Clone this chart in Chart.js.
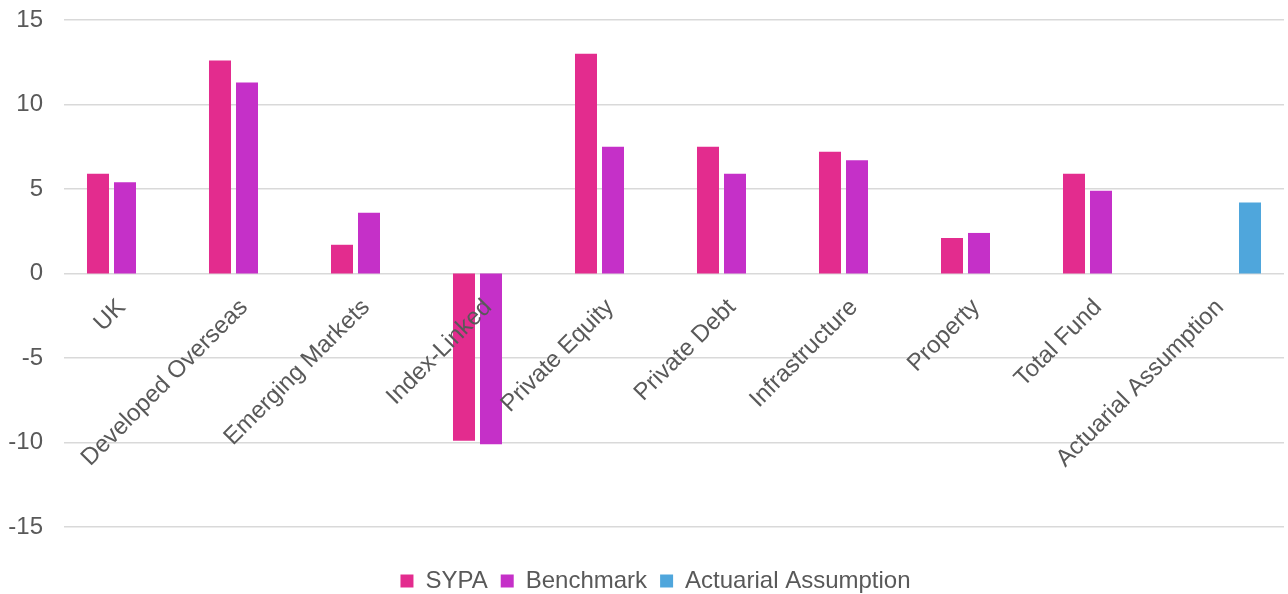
<!DOCTYPE html>
<html>
<head>
<meta charset="utf-8">
<script src="https://cdn.jsdelivr.net/npm/chart.js@4/dist/chart.umd.min.js"></script>
<style>
  html, body { margin: 0; padding: 0; background: #fff; overflow: hidden; }
  #wrap { width: 1311px; height: 603px; }
</style>
</head>
<body>
<div id="wrap"><canvas id="returnsChart"></canvas></div>
<script>
const categories = ['UK', 'Developed Overseas', 'Emerging Markets', 'Index-Linked', 'Private Equity',
    'Private Debt', 'Infrastructure', 'Property', 'Total Fund', 'Actuarial Assumption'];
const sypa = [5.9, 12.6, 1.7, -9.9, 13.0, 7.5, 7.2, 2.1, 5.9, null];
const benchmark = [5.4, 11.3, 3.6, -10.1, 7.5, 5.9, 6.7, 2.4, 4.9, null];
const actuarial = [null, null, null, null, null, null, null, null, null, 4.2];
const yTicks = [-15, -10, -5, 0, 5, 10, 15];

const returnsChart = () => {
    Chart.defaults.font.family = '"Liberation Sans", Arial, sans-serif';
    Chart.defaults.font.size = 24;
    Chart.defaults.color = '#595959';

    const ctx = document.getElementById('returnsChart').getContext('2d');
    const bar = { categoryPercentage: 0.664, barPercentage: 0.815, borderWidth: 0 };
    const data = {
        labels: categories,
        datasets: [
            { label: 'SYPA', data: sypa, backgroundColor: '#e32c8e', ...bar },
            { label: 'Benchmark', data: benchmark, backgroundColor: '#c530c8', ...bar },
            { label: 'Actuarial Assumption', data: actuarial, backgroundColor: '#4fa6dc', ...bar },
        ],
    };
    new Chart(ctx, {
        type: 'bar',
        data: data,
        options: {
            responsive: true,
            maintainAspectRatio: false,
            animation: false,
            layout: { padding: { left: 0, right: 0, top: 20, bottom: 0 } },
            plugins: {
                tooltip: { enabled: false },
                legend: {
                    position: 'bottom',
                    labels: { boxWidth: 13, boxHeight: 13, padding: 13, font: { size: 24 } },
                },
            },
            scales: {
                x: {
                    position: { y: 0 },
                    grid: { display: false, drawTicks: false },
                    border: { display: false },
                    // z: 1 puts the category names over the bars, as in the original
                    ticks: { z: 1, autoSkip: false, minRotation: 45, maxRotation: 45, padding: 20, labelOffset: -3 },
                    afterFit: (scale) => { scale.height = 0; },
                },
                // empty axes, they only keep room round the plot
                gap: {
                    type: 'category',
                    position: 'bottom',
                    grid: { display: false, drawTicks: false },
                    border: { display: false },
                    ticks: { display: false },
                    afterFit: (scale) => { scale.height = 29; },
                },
                gapRight: {
                    type: 'linear',
                    position: 'right',
                    grid: { display: false, drawTicks: false },
                    border: { display: false },
                    ticks: { display: false },
                    afterFit: (scale) => { scale.width = 27; },
                },
                y: {
                    min: -15,
                    max: 15,
                    grid: { color: '#d9d9d9', lineWidth: 1.5, drawTicks: true, tickLength: 21, tickColor: 'transparent' },
                    border: { display: false },
                    ticks: { padding: 0, stepSize: 5 },
                    afterBuildTicks: (scale) => { scale.ticks = yTicks.map(v => ({ value: v })); },
                    afterFit: (scale) => { scale.width = 64; },
                },
            },
        },
    });
};

window.onload = () => {
    returnsChart();
};
</script>
</body>
</html>
